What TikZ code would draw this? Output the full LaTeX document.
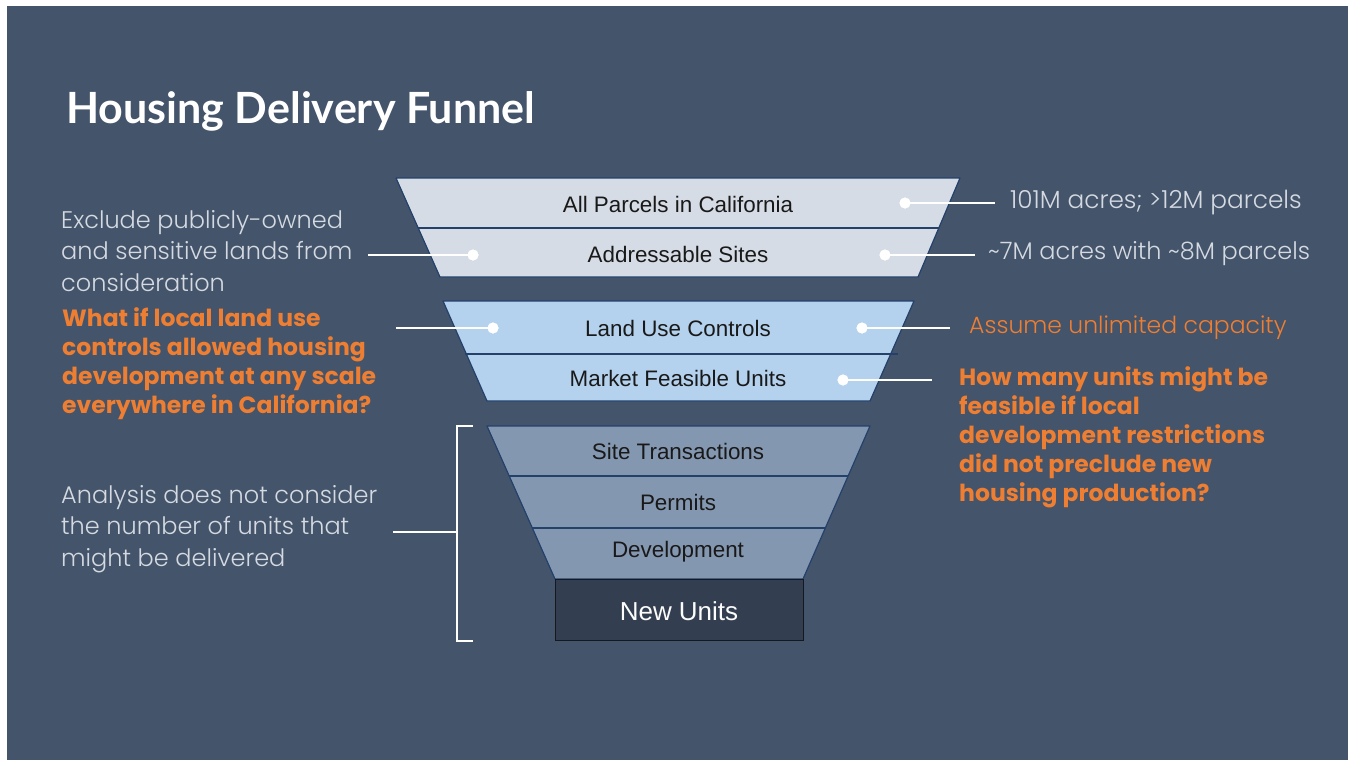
\documentclass[tikz,border=0pt]{standalone}
\usepackage{fontspec}
\setmainfont{Liberation Sans}
\newfontfamily\titlefont{Lato Bold}
\newfontfamily\heavyfont{Poppins Bold}
\newfontfamily\lightfont{Poppins Light}
\definecolor{bgc}{HTML}{44546A}
\definecolor{cA}{HTML}{D6DCE5}
\definecolor{cB}{HTML}{B4D2EE}
\definecolor{cC}{HTML}{8497B0}
\definecolor{cD}{HTML}{333F50}
\definecolor{edgec}{HTML}{23416A}
\definecolor{lighttxt}{HTML}{D5DAE2}
\definecolor{orangec}{HTML}{EE7E32}
\tikzset{
  band/.style={draw=edgec, line width=1.2pt, line join=round},
  sep/.style={draw=edgec, line width=1.2pt},
  flabel/.style={font=\fontsize{22.4}{26}\selectfont, text=black!90, inner sep=0pt},
  dot/.style={circle, fill=white, inner sep=0pt, minimum size=11pt},
  conn/.style={draw=white, line width=1.6pt},
  graytxt/.style={font=\lightfont\fontsize{24}{31.5}\selectfont, text=lighttxt, align=left, inner sep=0pt, anchor=west},
  orangebold/.style={font=\heavyfont\fontsize{23.5}{29}\selectfont, text=orangec, align=left, inner sep=0pt, anchor=west},
  righttxt/.style={font=\lightfont\fontsize{24}{30}\selectfont, text=lighttxt, anchor=west, inner sep=0pt},
  bracket/.style={draw=white, line width=1.4pt}
}
\begin{document}
\begin{tikzpicture}[x=1pt,y=-1pt]
\useasboundingbox (0,0) rectangle (1348,760);
\fill[white] (0,0) rectangle (1348,760);
\fill[bgc] (7,6) rectangle (1348,760);

% title
\node[font=\titlefont\fontsize{43}{48}\selectfont, text=white, anchor=west, inner sep=0pt] (title) at (66,111) {Housing Delivery Funnel};

% block 1
\fill[cA] (396,178) -- (960,178) -- (918,277) -- (440,277) -- cycle;
\draw[band] (396,178) -- (960,178) -- (918,277) -- (440,277) -- cycle;
\draw[sep] (418,228) -- (939,228);
% block 2
\fill[cB] (443,301) -- (914,301) -- (870,401) -- (487,401) -- cycle;
\draw[band] (443,301) -- (914,301) -- (870,401) -- (487,401) -- cycle;
\draw[sep] (465,354) -- (898,354);
% block 3
\fill[cC] (487,426) -- (870,426) -- (803,579) -- (555,579) -- cycle;
\draw[band] (487,426) -- (870,426) -- (803,579) -- (555,579) -- cycle;
\draw[sep] (509,476) -- (848,476);
\draw[sep] (532,528) -- (826,528);
% new units box
\node[draw=black!70!bgc, line width=1pt, fill=cD, minimum width=248pt, minimum height=61pt, inner sep=0pt, anchor=north west] (newunits) at (555,579) {};
\node[font=\fontsize{26}{30}\selectfont, text=white!92!cA, inner sep=0pt] (nutext) at (679,611) {New Units};

% funnel labels
\node[flabel] (l1) at (678,204) {All Parcels in California};
\node[flabel] (l2) at (678,254) {Addressable Sites};
\node[flabel] (l3) at (678,328) {Land Use Controls};
\node[flabel] (l4) at (678,378) {Market Feasible Units};
\node[flabel] (l5) at (678,451) {Site Transactions};
\node[flabel] (l6) at (678,502) {Permits};
\node[flabel] (l7) at (678,552) {Development};

% dots
\node[dot] (d1) at (905,203) {};
\node[dot] (d2) at (473,255) {};
\node[dot] (d3) at (885,255) {};
\node[dot] (d4) at (493,328) {};
\node[dot] (d5) at (862,328) {};
\node[dot] (d6) at (843,380) {};

% right annotations
\node[righttxt, font=\lightfont\fontsize{24.8}{30}\selectfont] (r1) at (1010,203) {101M acres; >12M parcels};
\node[righttxt] (r2) at (988,254) {\char`\~7M acres with \char`\~8M parcels};
\node[righttxt, font=\lightfont\fontsize{23.5}{30}\selectfont, text=orangec] (r3) at (969,328) {Assume unlimited capacity};
\node[orangebold] (r4) at (959,437) {How many units might be\\feasible if local\\development restrictions\\did not preclude new\\housing production?};

% left annotations
\node[graytxt] (g1) at (61,251) {Exclude publicly-owned\\and sensitive lands from\\consideration};
\node[orangebold] (o1) at (62,363.5) {What if local land use\\controls allowed housing\\development at any scale\\everywhere in California?};
\node[graytxt] (g2) at (61,529) {Analysis does not consider\\the number of units that\\might be delivered};

% connector free ends
\coordinate (e1) at (995,203);
\coordinate (e2) at (975,255);
\coordinate (e3) at (368,255);
\coordinate (e4) at (396,328);
\coordinate (e5) at (950,328);
\coordinate (e6) at (932,380);
\draw[conn] (d1.center) -- (e1);
\draw[conn] (d3.center) -- (e2);
\draw[conn] (d2.center) -- (e3);
\draw[conn] (d4.center) -- (e4);
\draw[conn] (d5.center) -- (e5);
\draw[conn] (d6.center) -- (e6);
\node[dot] at (d1) {};
\node[dot] at (d2) {};
\node[dot] at (d3) {};
\node[dot] at (d4) {};
\node[dot] at (d5) {};
\node[dot] at (d6) {};

% bracket
\coordinate (bt) at (473,426);
\coordinate (bb) at (473,641);
\coordinate (bm) at (457,532);
\coordinate (bl) at (393,532);
\draw[bracket] (bt) -- (457,426) -- (457,641) -- (bb);
\draw[bracket] (bm) -- (bl);
\end{tikzpicture}
\end{document}
